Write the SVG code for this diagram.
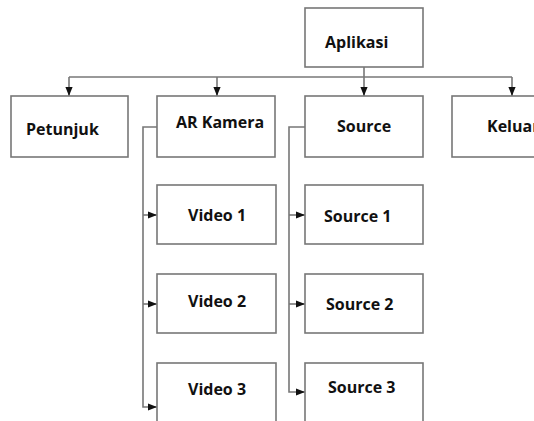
<svg xmlns="http://www.w3.org/2000/svg" width="534" height="421" viewBox="0 0 534 421">
<defs>
<marker id="ah" viewBox="0 0 10 10" refX="10" refY="5" markerWidth="9" markerHeight="9" markerUnits="userSpaceOnUse" orient="auto">
<path d="M0,1 L10,5 L0,9 Z" fill="#111"/>
</marker>
<style>
.box{fill:#fff;stroke:#777;stroke-width:1.6}
.t{font-family:"Open Sans","Liberation Sans",sans-serif;font-weight:bold;font-size:16px;fill:#111}
.c{fill:none;stroke:#777;stroke-width:1.6}
</style>
</defs>
<rect width="534" height="421" fill="#fff"/>
<g id="connectors">
<path class="c" d="M364,67 V96" marker-end="url(#ah)"/>
<path class="c" d="M69,77 H512"/>
<path class="c" d="M69,77 V96" marker-end="url(#ah)"/>
<path class="c" d="M217,77 V96" marker-end="url(#ah)"/>
<path class="c" d="M512,77 V96" marker-end="url(#ah)"/>
<path class="c" d="M157,127 H143 V407 H157" marker-end="url(#ah)"/>
<path class="c" d="M143,215 H157" marker-end="url(#ah)"/>
<path class="c" d="M143,304 H157" marker-end="url(#ah)"/>
<path class="c" d="M305,127 H289 V392 H305" marker-end="url(#ah)"/>
<path class="c" d="M289,215 H305" marker-end="url(#ah)"/>
<path class="c" d="M289,304 H305" marker-end="url(#ah)"/>
</g>
<g id="aplikasi"><rect class="box" x="305" y="8" width="118" height="59"/><text class="t" x="325" y="48">Aplikasi</text></g>
<g id="petunjuk"><rect class="box" x="11" y="96" width="117" height="61"/><text class="t" x="26" y="135">Petunjuk</text></g>
<g id="arkamera"><rect class="box" x="157" y="96" width="118" height="61"/><text class="t" x="176" y="128">AR Kamera</text></g>
<g id="source"><rect class="box" x="305" y="96" width="118" height="61"/><text class="t" x="337" y="132">Source</text></g>
<g id="keluar"><rect class="box" x="452" y="96" width="118" height="61"/><text class="t" x="487" y="132">Keluar</text></g>
<g id="video1"><rect class="box" x="157" y="185" width="119" height="59"/><text class="t" x="188" y="221">Video 1</text></g>
<g id="video2"><rect class="box" x="157" y="274" width="119" height="59"/><text class="t" x="188" y="307">Video 2</text></g>
<g id="video3"><rect class="box" x="157" y="363" width="119" height="70"/><text class="t" x="188" y="395">Video 3</text></g>
<g id="source1"><rect class="box" x="305" y="185" width="118" height="59"/><text class="t" x="324" y="222">Source 1</text></g>
<g id="source2"><rect class="box" x="305" y="274" width="118" height="59"/><text class="t" x="326" y="310">Source 2</text></g>
<g id="source3"><rect class="box" x="305" y="363" width="118" height="59"/><text class="t" x="328" y="393">Source 3</text></g>
</svg>
